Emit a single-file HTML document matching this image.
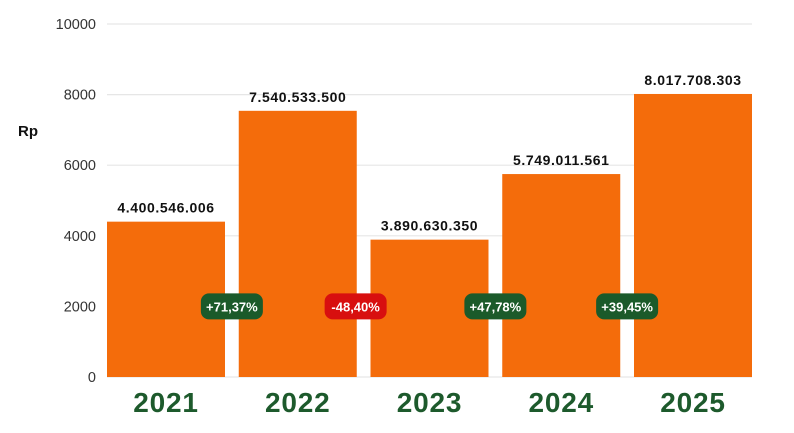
<!DOCTYPE html>
<html><head><meta charset="utf-8"><style>
body{margin:0;background:#fff;width:794px;height:428px;overflow:hidden;font-family:"Liberation Sans",sans-serif}
</style></head><body>
<svg id="chart" width="794" height="428" xmlns="http://www.w3.org/2000/svg"></svg>
<script>
const categories=["2021","2022","2023","2024","2025"];
const values=[4400.546006,7540.5335,3890.63035,5749.011561,8017.708303];
const valueLabels=["4.400.546.006","7.540.533.500","3.890.630.350","5.749.011.561","8.017.708.303"];
const changes=["+71,37%","-48,40%","+47,78%","+39,45%"];
const changeUp=[true,false,true,true];
const ticks=[0,2000,4000,6000,8000,10000];
const NS="http://www.w3.org/2000/svg";
const svg=document.getElementById('chart');
const x0=107,step=131.75,bw=118,y0=377,yTop=24,maxV=10000;
const y=v=>y0-(v/maxV)*(y0-yTop);
const xb=i=>x0+i*step;
function mk(t,a,txt){const e=document.createElementNS(NS,t);for(const k in a)e.setAttribute(k,a[k]);if(txt!=null)e.textContent=txt;svg.appendChild(e);return e;}
ticks.forEach(t=>{
 const g=mk('line',{x1:107,x2:752,y1:y(t),y2:y(t),stroke:'#e6e6e6','stroke-width':1.2});
 
 
 const l=mk('text',{x:96,y:y(t)+5,'text-anchor':'end','font-size':14.5,fill:'#333'},t);
 
 
});
const rp=mk('text',{x:18,y:136,'font-size':15,'font-weight':'bold',fill:'#111'},'Rp');


values.forEach((v,i)=>{
 const r=mk('rect',{x:xb(i),y:y(v),width:bw,height:y0-y(v),fill:'#f46c0b'});
 
 
 const vl=mk('text',{x:xb(i)+bw/2,y:y(v)-9,'text-anchor':'middle','font-size':14,'font-weight':'bold',fill:'#111','letter-spacing':'0.6'},valueLabels[i]);
 
 
 const cl=mk('text',{x:xb(i)+bw/2,y:412,'text-anchor':'middle','font-size':28,'font-weight':'bold',fill:'#1d5a2c','letter-spacing':'0.8'},categories[i]);
 
 
});
changes.forEach((c,i)=>{
 const cx=(xb(i)+bw+xb(i+1))/2-(i===1?8:0), cy=y(2000);
 const b=mk('rect',{x:cx-31,y:cy-13,width:62,height:26,rx:8,fill:changeUp[i]?'#1b5a2a':'#d80f0f'});
 
 
 const t=mk('text',{x:cx,y:cy+5,'text-anchor':'middle','font-size':13,'font-weight':'bold',fill:'#fff'},c);
 
 
});
</script>
</body></html>
